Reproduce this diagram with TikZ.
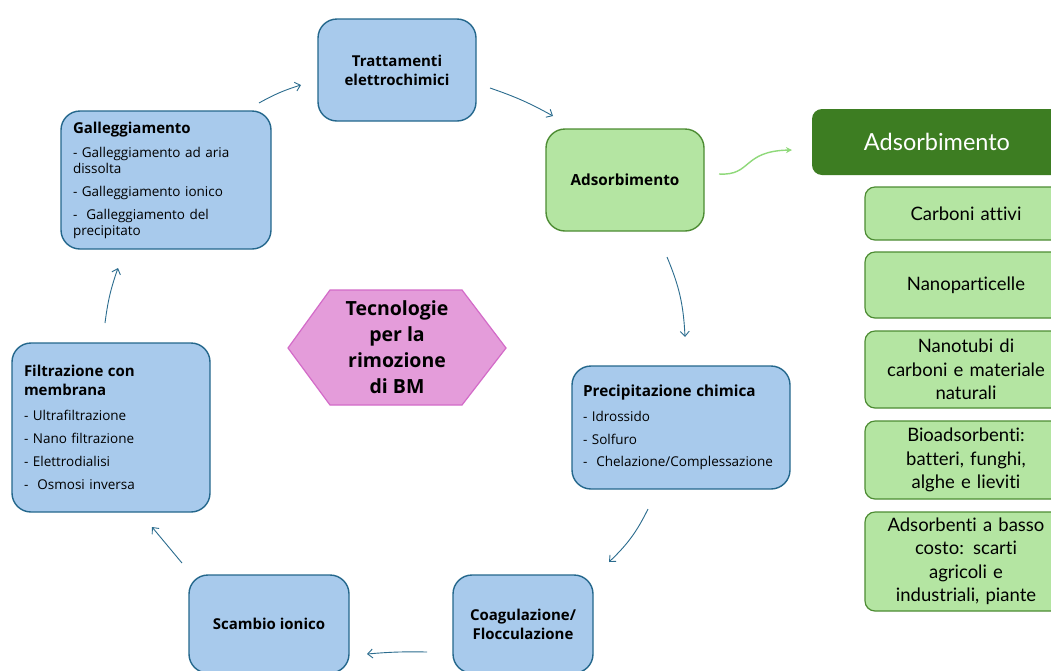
\documentclass[tikz,border=0pt]{standalone}
\usepackage{fontspec}
\setmainfont{Open Sans}
\newfontfamily\latofont[Ligatures={NoCommon}]{Lato}
\usetikzlibrary{arrows.meta}
\definecolor{bfill}{HTML}{A8CAEC}
\definecolor{bline}{HTML}{24678C}
\definecolor{gfill}{HTML}{B4E5A2}
\definecolor{gline}{HTML}{4D8C33}
\definecolor{gdark}{HTML}{3D7D22}
\definecolor{pfill}{HTML}{E49CDA}
\definecolor{pline}{HTML}{D36BC8}
\definecolor{arr}{HTML}{2B6C8E}
\definecolor{garr}{HTML}{8FD97A}
\begin{document}
\begin{tikzpicture}[x=1pt,y=-1pt,
  bluebox/.style={draw=bline,fill=bfill,line width=1.4pt,rounded corners=19pt,inner sep=0pt},
  greenbox/.style={draw=gline,fill=gfill,line width=1.4pt,rounded corners=19pt,inner sep=0pt},
  itembox/.style={draw=gline,fill=gfill,line width=1.2pt,rounded corners=10pt,inner sep=0pt,
     minimum width=202pt,text width=196pt,align=center,
     font=\latofont\fontsize{18.5}{23.5}\selectfont},
  ttl/.style={font=\bfseries\fontsize{15}{19}\selectfont},
  listbox/.style={bluebox,align=left,font=\fontsize{13.5}{16}\selectfont},
  cyc/.style={draw=arr,line width=0.9pt,-{Straight Barb[length=5pt,width=9pt]}},
]
\clip (0,0) rectangle (1051,670);
\fill[white] (0,0) rectangle (1051,670);

% blue / green cycle boxes
\node[bluebox,minimum width=158pt,minimum height=102pt,align=center,ttl] (tratt) at (397,70)
  {Trattamenti\\elettrochimici};
\node[listbox,minimum width=210pt,minimum height=138pt,text width=186pt] (gal) at (166,180)
  {{\bfseries\fontsize{15}{16}\selectfont Galleggiamento}\\[8pt]
   - Galleggiamento ad aria\\dissolta\\[7pt]
   - Galleggiamento ionico\\[7pt]
   -\ \ Galleggiamento del\\precipitato};
\node[greenbox,minimum width=158pt,minimum height=102pt,align=center,font=\bfseries\fontsize{15.3}{19}\selectfont] (ads) at (625,180)
  {Adsorbimento};
\node[listbox,minimum width=218pt,minimum height=123pt,text width=196pt] (prec) at (681,427.5)
  {{\bfseries\fontsize{15.3}{16}\selectfont Precipitazione chimica}\\[9pt]
   - Idrossido\\[6.5pt]
   - Solfuro\\[6.5pt]
   -\ \ Chelazione/Complessazione};
\node[bluebox,minimum width=140pt,minimum height=98pt,align=center,ttl] (coag) at (523,624)
  {Coagulazione/\\Flocculazione};
\node[bluebox,minimum width=160pt,minimum height=98pt,align=center,ttl] (scam) at (269,624)
  {Scambio ionico};
\node[listbox,minimum width=198pt,minimum height=169pt,text width=174pt] (filt) at (111,427.5)
  {{\bfseries\fontsize{15}{16}\selectfont Filtrazione con}\\[3pt]
   {\bfseries\fontsize{15}{16}\selectfont membrana}\\[9pt]
   - Ultrafiltrazione\\[7pt]
   - Nano filtrazione\\[7pt]
   - Elettrodialisi\\[7pt]
   -\ \ Osmosi inversa};

% central hexagon
\filldraw[fill=pfill,draw=pline,line width=1.2pt] (288,348) -- (330,290) -- (462,290) -- (506,348) -- (462,405) -- (330,405) -- cycle;
\node[align=center,font=\bfseries\fontsize{19.5}{26}\selectfont] (hex) at (397,347.5)
  {Tecnologie\\per la\\rimozione\\di BM};

% right-hand column
\node[fill=gdark,rounded corners=10pt,minimum width=250pt,minimum height=66pt,inner sep=0pt,
  text=white,font=\latofont\fontsize{23.5}{25}\selectfont] (hdr) at (937,142) {Adsorbimento};
\node[itembox,minimum height=53pt] (c1) at (966,213.5) {Carboni attivi};
\node[itembox,minimum height=66pt] (c2) at (966,285) {Nanoparticelle};
\node[itembox,minimum height=77pt] (c3) at (966,369.5) {Nanotubi di\\carboni e materiale\\naturali};
\node[itembox,minimum height=78pt] (c4) at (966,460) {Bioadsorbenti:\\batteri, funghi,\\alghe e lieviti};
\node[itembox,minimum height=99pt] (c5) at (966,561.5) {Adsorbenti a basso\\costo: scarti\\agricoli e\\industriali, piante};

% arrow end points
\coordinate (a1s) at (259,103); \coordinate (a1e) at (301,85);
\coordinate (a2s) at (490,88);  \coordinate (a2e) at (553,116);
\coordinate (a3s) at (667,257); \coordinate (a3e) at (685,337);
\coordinate (a4s) at (648,509); \coordinate (a4e) at (609,562);
\coordinate (a5s) at (427,652); \coordinate (a5e) at (367,654);
\coordinate (a6s) at (182,563); \coordinate (a6e) at (152,527);
\coordinate (a7s) at (105,323); \coordinate (a7e) at (118,268);
\coordinate (gs) at (719,174);  \coordinate (ge) at (792,150);

\draw[cyc] (a1s) to[bend left=6] (a1e);
\draw[cyc] (a2s) to[bend left=5] (a2e);
\draw[cyc] (a3s) to[bend left=10] (a3e);
\draw[cyc] (a4s) to[bend left=10] (a4e);
\draw[cyc] (a5s) to[bend right=3] (a5e);
\draw[cyc] (a6s) -- (a6e);
\draw[cyc] (a7s) to[bend left=6] (a7e);
\draw[draw=garr,line width=1.4pt,-{Stealth[length=6pt,width=6pt]}] (gs) .. controls (752,176) and (742,151) .. (ge);
\end{tikzpicture}
\end{document}
